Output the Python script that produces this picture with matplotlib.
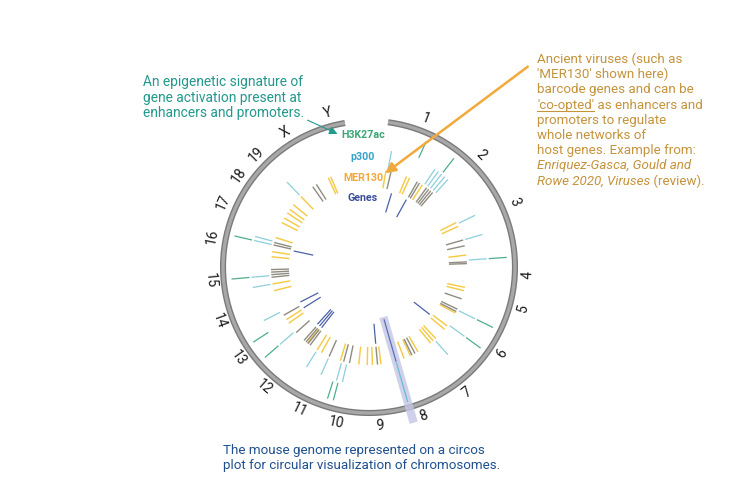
import numpy as np
import matplotlib

matplotlib.use("Agg")
import matplotlib.pyplot as plt

plt.rcParams['font.family'] = ['Roboto', 'DejaVu Sans']

W, H = 741, 486
CX, CY = 369, 267          # centre of the circos plot (pixels)
RMAX = 180

# chromosome labels and their angular position (deg, clockwise from top)
chrom_labels = ['1', '2', '3', '4', '5', '6', '7', '8', '9', '10', '11', '12', '13',
                '14', '15', '16', '17', '18', '19', 'X', 'Y']
chrom_angles = [21, 45, 66, 93, 105, 123, 142, 160, 176, 192, 206, 221, 235,
                250, 265, 281, 294, 305, 315, 328, 345]
ring_start, ring_end = 7.5, 350.5

# feature positions per track (deg)
h3k27ac = [24.5, 38, 86, 116, 126, 195, 197.5, 229, 237, 265, 283]
p300 = [11, 34, 36, 38, 40, 42, 64, 74, 86, 116, 126, 138, 193, 196, 204,
        212, 229, 243, 260, 265, 283, 285, 316]
mer130 = [10, 22.5, 24.5, 33, 63, 65.5, 83, 102, 104, 118, 127, 129.5, 137, 139,
          141, 150, 155, 159, 173, 178, 181, 186, 197, 209, 212, 219, 235, 237.5,
          256, 260, 276, 279, 287.5, 297, 300, 303.5, 306, 309.5, 316, 335.5, 337]
overlap = [13, 29.5, 31, 36, 37.5, 39, 40.5, 74, 77.5, 87, 88, 109, 115.5, 117,
           152, 154, 175, 191.5, 195, 204, 217, 218.5, 220, 221.5, 228, 240.5,
           264, 265.5, 267, 268.5, 283, 284.5, 325, 327.5]
genes = [17, 29, 128, 175, 218, 220, 222, 238, 243, 282]
highlight = 164

tracks = [
    (genes, (57, 77), '#4b62a6', 0.9),
    (mer130, (80, 98), '#f4cb48', 1.05),
    (overlap, (80, 98), '#8f8c80', 1.0),
    (p300, (100, 118), '#8ccfdc', 0.9),
    (h3k27ac, (120, 138), '#4fae8b', 0.9),
]

TEAL = '#22998c'
GOLD = '#c4933c'
NAVY = '#1f4f8f'
FS = 9.6

fig = plt.figure(figsize=(W / 100, H / 100), dpi=100)
fig.patch.set_facecolor('white')

# circos part on a polar axes centred on the circle
pax = fig.add_axes([(CX - RMAX) / W, (H - CY - RMAX) / H, 2 * RMAX / W, 2 * RMAX / H],
                   projection='polar')
pax.set_theta_zero_location('N')
pax.set_theta_direction(-1)
pax.set_rlim(0, RMAX)
pax.axis('off')

th = np.radians(np.linspace(ring_start, ring_end, 400))
pax.plot(th, np.full_like(th, 146), color='#7a7a7a', lw=4.4, solid_capstyle='butt')
pax.plot(th, np.full_like(th, 146), color='#a8a8a8', lw=2.4, solid_capstyle='butt')

for lab, ang in zip(chrom_labels, chrom_angles):
    rot = -ang if (ang < 90 or ang > 270) else 180 - ang
    pax.text(np.radians(ang), 159, lab, rotation=rot, ha='center', va='center',
             fontsize=10, color='#1a1a1a', rotation_mode='anchor')

hl = np.radians(highlight)
pax.plot([hl, hl], [52, 162], color='#c3c6e6', lw=6, alpha=0.8, solid_capstyle='butt')
pax.plot([hl, hl], [55, 98], color='#5d6fb3', lw=0.9)
pax.plot([hl, hl], [100, 140], color='#6bbcd0', lw=0.9)

for angs, (r0, r1), col, lw in tracks:
    for a in angs:
        t = np.radians(a)
        pax.plot([t, t], [r0, r1], color=col, lw=lw, solid_capstyle='butt')

# overlay in pixel coordinates for labels and annotations
ax = fig.add_axes([0, 0, 1, 1])
ax.set_xlim(0, W)
ax.set_ylim(H, 0)
ax.axis('off')

track_labels = [('H3K27ac', '#3aa674', 135), ('p300', '#34a3c8', 157),
                ('MER130', '#f2a83a', 178), ('Genes', '#3b4f98', 198)]
for txt, col, yy in track_labels:
    ax.text(363, yy, txt, color=col, fontsize=7.7, fontweight='bold',
            ha='center', va='center')

left_lines = ['An epigenetic signature of', 'gene activation present at',
              'enhancers and promoters.']
for i, s in enumerate(left_lines):
    ax.text(143, 86 + i * 15.5, s, color=TEAL, fontsize=9.9, va='baseline')

ax.annotate('', xy=(340, 135), xytext=(305, 119),
            arrowprops=dict(arrowstyle='-|>', color=TEAL, lw=0.8, mutation_scale=12))
ax.annotate('', xy=(383, 175), xytext=(530, 65),
            arrowprops=dict(arrowstyle='-|>', color='#f2a93b', lw=1.8, mutation_scale=15))

renderer = fig.canvas.get_renderer()


def put_runs(x, y, runs, color, underline_first=False):
    for k, (s, style) in enumerate(runs):
        t = ax.text(x, y, s, color=color, fontsize=FS, fontstyle=style, va='baseline')
        w = t.get_window_extent(renderer=renderer).width
        if underline_first and k == 0:
            ax.plot([x, x + w], [y + 2.3, y + 2.3], color=color, lw=0.8)
        x += w


right_runs = [
    [('Ancient viruses (such as', 'normal')],
    [("'MER130' shown here)", 'normal')],
    [('barcode genes and can be', 'normal')],
    [("'co-opted'", 'normal'), (' as enhancers and', 'normal')],
    [('promoters to regulate', 'normal')],
    [('whole networks of', 'normal')],
    [('host genes. Example from:', 'normal')],
    [('Enriquez-Gasca, Gould and', 'italic')],
    [('Rowe 2020, Viruses', 'italic'), (' (review).', 'normal')],
]
for i, runs in enumerate(right_runs):
    put_runs(537, 63 + i * 15.2, runs, GOLD, underline_first=(i == 3))

bottom_lines = ['The mouse genome represented on a circos',
                'plot for circular visualization of chromosomes.']
for i, s in enumerate(bottom_lines):
    ax.text(223, 454 + i * 15.2, s, color=NAVY, fontsize=FS, va='baseline')

fig.savefig('out.png', dpi=100, facecolor='white')
